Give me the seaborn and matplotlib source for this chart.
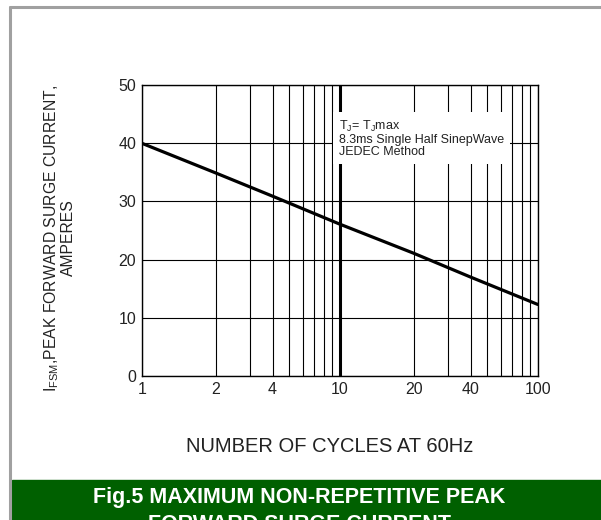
import numpy as np
import seaborn as sns
import matplotlib.pyplot as plt
from matplotlib.patches import Rectangle
from matplotlib.lines import Line2D

# data
cycles = [1, 2, 4, 10, 20, 40, 100]
current = [40.0, 34.9, 30.9, 26.1, 21.1, 17.0, 12.3]
x_ticks = [1, 2, 4, 10, 20, 40, 100]
x_minor = [3, 5, 6, 7, 8, 9, 30, 50, 60, 70, 80, 90]
y_ticks = [0, 10, 20, 30, 40, 50]

sns.set_style('white')
plt.rcParams['font.family'] = ['Liberation Sans', 'DejaVu Sans']
plt.rcParams['mathtext.default'] = 'regular'


# the datasheet grid is a squeezed log scale: each decade spaced like log(m - 0.5)
def fwd(x):
    x = np.clip(np.asarray(x, dtype=float), 1e-3, None)
    d = np.floor(np.log10(x) + 1e-9)
    m = x / 10 ** d
    return d + np.log10(np.clip((m - 0.5) / 0.5, 1e-6, None)) / np.log10(19)


def inv(u):
    u = np.asarray(u, dtype=float)
    d = np.floor(u)
    m = 0.5 + 0.5 * 19 ** (u - d)
    return m * 10 ** d


fig = plt.figure(figsize=(6.01, 5.20), dpi=100)
ax = fig.add_axes([0.2358, 0.2769, 0.8947 - 0.2358, 0.8365 - 0.2769])

sns.lineplot(x=cycles, y=current, color='black', lw=2.3, ax=ax, zorder=5)

ax.set_xscale('function', functions=(fwd, inv))
ax.set_xlim(1, 100)
ax.set_ylim(0, 50)
ax.set_xticks(x_ticks)
ax.set_xticklabels([str(t) for t in x_ticks])
ax.set_xticks(x_minor, minor=True)
ax.set_yticks(y_ticks)
ax.grid(True, which='both', color='black', lw=0.8)
ax.axvline(10, color='black', lw=2.2)
ax.tick_params(which='both', length=0, labelsize=11.5, colors='#222222', pad=4)
for s in ax.spines.values():
    s.set_color('black')
    s.set_linewidth(1)
ax.set_xlabel('')
ax.set_ylabel('')

ax.text(0.498, 0.885, 'T$_J$= T$_J$max\n8.3ms Single Half SinepWave\nJEDEC Method',
        transform=ax.transAxes, fontsize=9, va='top', ha='left', linespacing=1.05,
        color='#222222', zorder=6,
        bbox=dict(boxstyle='square,pad=0.45', fc='white', ec='none'))

fig.text(330 / 601, 1 - 446 / 520, 'NUMBER OF CYCLES AT 60Hz', fontsize=14.5,
         ha='center', va='center', color='#222222')
fig.text(59 / 601, 1 - 238 / 520, 'I$_{FSM}$,PEAK FORWARD SURGE CURRENT,\nAMPERES',
         rotation=90, fontsize=11.3, ha='center', va='center', multialignment='center',
         linespacing=1.0, color='#222222')

# frame and green caption band
fig.add_artist(Line2D([10.5 / 601, 1], [1 - 7 / 520, 1 - 7 / 520], color='#a0a0a0', lw=2.2))
fig.add_artist(Line2D([10.5 / 601, 10.5 / 601], [0, 1 - 7 / 520], color='#a0a0a0', lw=2.2))
fig.add_artist(Rectangle((12 / 601, 0), 1, 40 / 520, color='#006000', transform=fig.transFigure))
fig.text(299 / 601, 1 - 503 / 520, 'Fig.5 MAXIMUM NON-REPETITIVE PEAK',
         color='white', fontsize=15.5, fontweight='bold', ha='center', va='baseline')
fig.text(299 / 601, 1 - 530 / 520, 'FORWARD SURGE CURRENT',
         color='white', fontsize=15.5, fontweight='bold', ha='center', va='baseline')

fig.savefig('out.png', dpi=100)
